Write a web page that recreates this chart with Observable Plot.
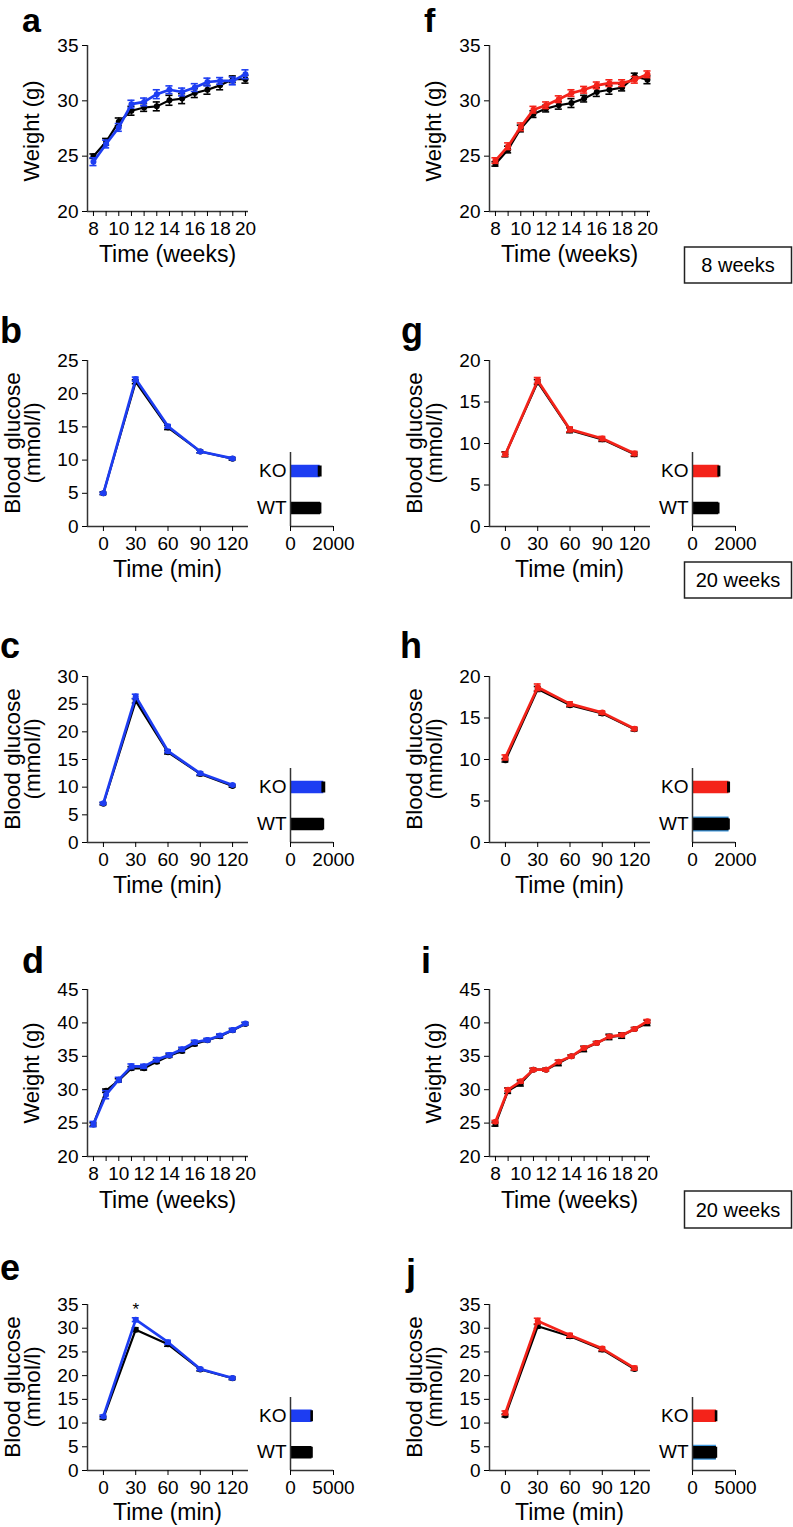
<!DOCTYPE html>
<html><head><meta charset="utf-8">
<script src="https://cdn.jsdelivr.net/npm/d3@7"></script>
<script src="https://cdn.jsdelivr.net/npm/@observablehq/plot@0.6"></script>
<style>
html,body{margin:0;padding:0;background:#fff;}
#page{position:relative;width:793px;height:1527px;overflow:hidden;font-family:"Liberation Sans",Arial,Helvetica,sans-serif;background:#fff;}
</style></head><body><div id="page"></div>
<script>
// ---------- data ----------
const weeks = [8,9,10,11,12,13,14,15,16,17,18,19,20];
const minutes = [0,30,60,90,120];
const aucGroups = ["WT","KO"];

// a: weight, 8 weeks cohort (blue KO)
const aWT   = [25.0,26.3,28.1,29.1,29.4,29.5,30.05,30.2,30.7,31.0,31.4,31.95,31.95];
const aWTse = [0.2,0.3,0.35,0.4,0.35,0.4,0.45,0.45,0.4,0.4,0.4,0.3,0.35];
const aKO   = [24.5,26.1,27.6,29.7,29.9,30.6,31.0,30.8,31.2,31.7,31.8,31.8,32.4];
const aKOse = [0.35,0.35,0.35,0.35,0.35,0.4,0.35,0.35,0.35,0.35,0.3,0.35,0.4];
// f: weight (red KO)
const fWT   = [24.3,25.6,27.5,28.8,29.3,29.6,29.8,30.2,30.8,31.0,31.2,32.2,31.9];
const fWTse = [0.2,0.3,0.3,0.3,0.3,0.35,0.4,0.3,0.4,0.4,0.3,0.3,0.35];
const fKO   = [24.6,25.9,27.65,29.2,29.6,30.15,30.7,31.0,31.4,31.6,31.6,31.9,32.4];
const fKOse = [0.25,0.3,0.35,0.3,0.3,0.3,0.3,0.3,0.3,0.3,0.3,0.3,0.3];
// d: weight
const dWT   = [24.8,29.85,31.4,33.2,33.2,34.2,35.1,35.8,36.85,37.4,38.0,38.9,39.85];
const dWTse = [0.25,0.25,0.25,0.25,0.25,0.25,0.25,0.25,0.25,0.2,0.25,0.2,0.2];
const dKO   = [24.85,29.25,31.5,33.5,33.5,34.5,35.2,36.05,37.1,37.45,38.1,38.95,39.9];
const dKOse = [0.4,0.6,0.35,0.35,0.3,0.3,0.3,0.3,0.3,0.25,0.25,0.25,0.2];
// i: weight
const iWT   = [24.85,29.85,30.95,33.0,33.0,34.0,35.0,36.1,37.0,37.9,38.1,39.1,40.0];
const iWTse = [0.3,0.4,0.4,0.2,0.2,0.4,0.2,0.4,0.2,0.4,0.4,0.2,0.4];
const iKO   = [25.2,30.0,31.25,33.0,33.0,34.2,35.0,36.25,37.0,37.95,38.2,39.1,40.25];
const iKOse = [0.2,0.2,0.25,0.2,0.2,0.2,0.2,0.2,0.2,0.2,0.2,0.2,0.25];

// glucose tolerance curves
const bWT = [5.0,21.8,14.9,11.3,10.2],   bWTse = [0.2,0.3,0.3,0.2,0.2];
const bKO = [5.0,22.2,15.1,11.3,10.25],  bKOse = [0.15,0.3,0.25,0.2,0.15];
const gWT = [8.7,17.4,11.6,10.5,8.7],    gWTse = [0.3,0.3,0.3,0.25,0.25];
const gKO = [8.7,17.6,11.7,10.6,8.8],    gKOse = [0.25,0.35,0.3,0.25,0.25];
const cWT = [7.0,25.6,16.3,12.4,10.2],   cWTse = [0.2,0.4,0.3,0.3,0.2];
const cKO = [7.1,26.4,16.5,12.5,10.4],   cKOse = [0.2,0.4,0.25,0.25,0.2];
const hWT = [9.9,18.5,16.55,15.55,13.65],hWTse = [0.2,0.3,0.2,0.2,0.2];
const hKO = [10.25,18.7,16.7,15.65,13.7],hKOse = [0.3,0.4,0.25,0.2,0.2];
const eWT = [11.1,29.7,26.6,21.3,19.45], eWTse = [0.3,0.4,0.4,0.3,0.3];
const eKO = [11.4,31.8,27.05,21.4,19.5], eKOse = [0.3,0.4,0.4,0.3,0.3];
const jWT = [11.6,30.4,28.3,25.5,21.4],  jWTse = [0.3,0.4,0.4,0.4,0.3];
const jKO = [12.15,31.5,28.5,25.7,21.6], jKOse = [0.4,0.6,0.4,0.4,0.4];

// AUC bars [WT, KO]
const bAUC = [1400,1380], bAUCse = [60,90];
const gAUC = [1220,1250], gAUCse = [60,70];
const cAUC = [1530,1550], cAUCse = [60,90];
const hAUC = [1700,1700], hAUCse = [60,70];
const eAUC = [2500,2520], eAUCse = [150,150];
const jAUC = [2780,2800], jAUCse = [150,150];
const eSignif = [{minute: 30, label: "*"}];

// ---------- drawing ----------
const page = document.getElementById("page");
const FONT = '"Liberation Sans", Arial, Helvetica, sans-serif';
const BLUE = "#1d3df2", RED = "#f4231a", AXIS = "#333";

function rows(xs, vs, es) { return xs.map((x, i) => ({x, v: vs[i], e: es[i]})); }
function place(svg, left, top) {
  svg.style.position = "absolute"; svg.style.left = left + "px"; svg.style.top = top + "px";
  page.appendChild(svg);
}

function mainPlot({col, fy0, fy1, kind, yDomain, yTicks, wt, ko, koColor, extra = []}) {
  const fx0 = 87 + col * 402, fx1 = 248 + col * 402;
  const ox0 = col * 402, ox1 = fx1 + 14, oy0 = fy0 - 20, oy1 = fy1 + 45;
  const isW = kind === "weeks";
  const xDomain = isW ? [7.53, 20.24] : [-14.8, 134.8];
  const cap = isW ? 0.28 : 3.2;
  const series = (data, color, lw) => [
    Plot.line(data, {x: "x", y: "v", stroke: color, strokeWidth: lw}),
    Plot.ruleX(data, {x: "x", y1: d => d.v - d.e, y2: d => d.v + d.e, stroke: color, strokeWidth: 1.6}),
    Plot.ruleY(data, {y: d => d.v + d.e, x1: d => d.x - cap, x2: d => d.x + cap, stroke: color, strokeWidth: 1.6}),
    Plot.ruleY(data, {y: d => d.v - d.e, x1: d => d.x - cap, x2: d => d.x + cap, stroke: color, strokeWidth: 1.6}),
    Plot.dot(data, {x: "x", y: "v", r: 3, fill: color})
  ];
  const svg = Plot.plot({
    width: ox1 - ox0, height: oy1 - oy0,
    marginLeft: fx0 - ox0, marginRight: ox1 - fx1, marginTop: fy0 - oy0, marginBottom: oy1 - fy1,
    x: {domain: xDomain}, y: {domain: yDomain},
    style: {fontFamily: FONT, fontSize: "19px", color: "#000", background: "transparent", overflow: "visible"},
    marks: [
      Plot.ruleX([xDomain[0]], {stroke: AXIS, strokeWidth: 1.5}),
      Plot.ruleY([yDomain[0]], {stroke: AXIS, strokeWidth: 1.5}),
      Plot.axisY({ticks: yTicks, tickSize: 5, tickPadding: 4, label: null, fontSize: 19, tickFormat: d => String(d)}),
      Plot.axisX({ticks: isW ? weeks : minutes, tickSize: 5, tickPadding: 5, label: null, fontSize: 19,
        tickFormat: isW ? (d => d % 2 === 0 ? String(d) : "") : (d => String(d))}),
      ...series(wt, "#000", 2.2),
      ...series(ko, koColor, 2.7),
      ...extra
    ]
  });
  place(svg, ox0, oy0);
}

function aucPlot({col, fy0, fy1, max, vals, ses, koColor, wtEdge = null}) {
  const fx0 = 290 + col * 402, fx1 = 333 + col * 402;
  const ox0 = fx0 - 50, ox1 = fx1 + 35, oy0 = fy0 - 10, oy1 = fy1 + 40;
  const data = aucGroups.map((g, i) => ({pos: i, v: vals[i], e: ses[i]}));
  const marks = [];
  if (wtEdge) marks.push(Plot.ruleY(data.filter(d => d.pos === 0), {y: "pos", x1: 0, x2: d => d.v, stroke: wtEdge, strokeWidth: 15}));
  marks.push(
    Plot.ruleY(data, {y: "pos", x1: 0, x2: "v", stroke: d => d.pos === 0 ? "#000" : koColor, strokeWidth: 12.5}),
    Plot.ruleY(data, {y: "pos", x1: d => d.v - d.e, x2: d => d.v + d.e, stroke: "#000", strokeWidth: 11}),
    Plot.ruleX([0], {stroke: AXIS, strokeWidth: 1.5}),
    Plot.ruleY([-0.5], {stroke: AXIS, strokeWidth: 1.5}),
    Plot.axisX({ticks: [0, max], tickSize: 5, tickPadding: 5, label: null, fontSize: 19, tickFormat: d => String(d)}),
    Plot.axisY({ticks: [0, 1], tickSize: 0, tickPadding: 4, label: null, fontSize: 19, tickFormat: i => aucGroups[i]})
  );
  const svg = Plot.plot({
    width: ox1 - ox0, height: oy1 - oy0,
    marginLeft: fx0 - ox0, marginRight: ox1 - fx1, marginTop: fy0 - oy0, marginBottom: oy1 - fy1,
    x: {domain: [0, max]}, y: {domain: [-0.5, 1.5]}, color: {type: "identity"},
    style: {fontFamily: FONT, fontSize: "19px", color: "#000", background: "transparent", overflow: "visible"},
    marks
  });
  place(svg, ox0, oy0);
}

// row geometry (plot-frame top / bottom in page px)
const R1 = [45, 211], R2 = [360, 526], R3 = [676, 842], R4 = [989, 1156], R5 = [1304, 1470];
const A2 = [452, 526], A3 = [768, 842], A5 = [1397, 1470];

mainPlot({col: 0, fy0: R1[0], fy1: R1[1], kind: "weeks", yDomain: [20, 35], yTicks: [20,25,30,35], wt: rows(weeks, aWT, aWTse), ko: rows(weeks, aKO, aKOse), koColor: BLUE});
mainPlot({col: 1, fy0: R1[0], fy1: R1[1], kind: "weeks", yDomain: [20, 35], yTicks: [20,25,30,35], wt: rows(weeks, fWT, fWTse), ko: rows(weeks, fKO, fKOse), koColor: RED});
mainPlot({col: 0, fy0: R2[0], fy1: R2[1], kind: "min", yDomain: [0, 25], yTicks: [0,5,10,15,20,25], wt: rows(minutes, bWT, bWTse), ko: rows(minutes, bKO, bKOse), koColor: BLUE});
mainPlot({col: 1, fy0: R2[0], fy1: R2[1], kind: "min", yDomain: [0, 20], yTicks: [0,5,10,15,20], wt: rows(minutes, gWT, gWTse), ko: rows(minutes, gKO, gKOse), koColor: RED});
mainPlot({col: 0, fy0: R3[0], fy1: R3[1], kind: "min", yDomain: [0, 30], yTicks: [0,5,10,15,20,25,30], wt: rows(minutes, cWT, cWTse), ko: rows(minutes, cKO, cKOse), koColor: BLUE});
mainPlot({col: 1, fy0: R3[0], fy1: R3[1], kind: "min", yDomain: [0, 20], yTicks: [0,5,10,15,20], wt: rows(minutes, hWT, hWTse), ko: rows(minutes, hKO, hKOse), koColor: RED});
mainPlot({col: 0, fy0: R4[0], fy1: R4[1], kind: "weeks", yDomain: [20, 45], yTicks: [20,25,30,35,40,45], wt: rows(weeks, dWT, dWTse), ko: rows(weeks, dKO, dKOse), koColor: BLUE});
mainPlot({col: 1, fy0: R4[0], fy1: R4[1], kind: "weeks", yDomain: [20, 45], yTicks: [20,25,30,35,40,45], wt: rows(weeks, iWT, iWTse), ko: rows(weeks, iKO, iKOse), koColor: RED});
mainPlot({col: 0, fy0: R5[0], fy1: R5[1], kind: "min", yDomain: [0, 35], yTicks: [0,5,10,15,20,25,30,35], wt: rows(minutes, eWT, eWTse), ko: rows(minutes, eKO, eKOse), koColor: BLUE,
  extra: [Plot.text(eSignif, {x: "minute", y: d => eKO[minutes.indexOf(d.minute)] + eKOse[minutes.indexOf(d.minute)] + 1.8, text: "label", fontSize: 17, fill: "#000"})]});
mainPlot({col: 1, fy0: R5[0], fy1: R5[1], kind: "min", yDomain: [0, 35], yTicks: [0,5,10,15,20,25,30,35], wt: rows(minutes, jWT, jWTse), ko: rows(minutes, jKO, jKOse), koColor: RED});

aucPlot({col: 0, fy0: A2[0], fy1: A2[1], max: 2000, vals: bAUC, ses: bAUCse, koColor: BLUE});
aucPlot({col: 1, fy0: A2[0], fy1: A2[1], max: 2000, vals: gAUC, ses: gAUCse, koColor: RED});
aucPlot({col: 0, fy0: A3[0], fy1: A3[1], max: 2000, vals: cAUC, ses: cAUCse, koColor: BLUE});
aucPlot({col: 1, fy0: A3[0], fy1: A3[1], max: 2000, vals: hAUC, ses: hAUCse, koColor: RED, wtEdge: "#3d95da"});
aucPlot({col: 0, fy0: A5[0], fy1: A5[1], max: 5000, vals: eAUC, ses: eAUCse, koColor: BLUE});
aucPlot({col: 1, fy0: A5[0], fy1: A5[1], max: 5000, vals: jAUC, ses: jAUCse, koColor: RED, wtEdge: "#3d95da"});

// ---------- annotation overlay (titles, panel letters, boxes) ----------
const ov = d3.select(page).append("svg").attr("width", 793).attr("height", 1527)
  .style("position", "absolute").style("left", "0px").style("top", "0px")
  .style("pointer-events", "none").style("font-family", FONT);

const letters = [
  {t: "a", x: 22, y: 32, s: 34}, {t: "f", x: 424, y: 32, s: 34},
  {t: "b", x: 0, y: 343, s: 36}, {t: "g", x: 401, y: 343, s: 36},
  {t: "c", x: 0, y: 658, s: 36}, {t: "h", x: 400, y: 658, s: 36},
  {t: "d", x: 22, y: 973, s: 36}, {t: "i", x: 421, y: 973, s: 36},
  {t: "e", x: 0, y: 1280, s: 36}, {t: "j", x: 406, y: 1285, s: 36}
];
ov.selectAll("text.letter").data(letters).join("text").attr("class", "letter")
  .attr("x", d => d.x).attr("y", d => d.y).attr("font-size", d => d.s).attr("font-weight", "bold").text(d => d.t);

const weightTitles = [{x: 39, cy: 131}, {x: 441, cy: 131}, {x: 39, cy: 1073}, {x: 441, cy: 1073}];
ov.selectAll("text.wt").data(weightTitles).join("text").attr("class", "wt")
  .attr("transform", d => `translate(${d.x},${d.cy}) rotate(-90)`).attr("text-anchor", "middle")
  .attr("font-size", 22).text("Weight (g)");

const glucoseTitles = [{x: 20, cy: 443}, {x: 422, cy: 443}, {x: 20, cy: 759}, {x: 422, cy: 759}, {x: 20, cy: 1387}, {x: 422, cy: 1387}];
glucoseTitles.forEach(d => {
  ov.append("text").attr("transform", `translate(${d.x},${d.cy}) rotate(-90)`).attr("text-anchor", "middle").attr("font-size", 22.5).text("Blood glucose");
  ov.append("text").attr("transform", `translate(${d.x + 20},${d.cy}) rotate(-90)`).attr("text-anchor", "middle").attr("font-size", 22.5).text("(mmol/l)");
});

const xTitles = [
  {x: 167.5, y: 262, t: "Time (weeks)"}, {x: 569.5, y: 262, t: "Time (weeks)"},
  {x: 167.5, y: 577, t: "Time (min)"}, {x: 569.5, y: 577, t: "Time (min)"},
  {x: 167.5, y: 893, t: "Time (min)"}, {x: 569.5, y: 893, t: "Time (min)"},
  {x: 167.5, y: 1208, t: "Time (weeks)"}, {x: 569.5, y: 1208, t: "Time (weeks)"},
  {x: 167.5, y: 1520, t: "Time (min)"}, {x: 569.5, y: 1520, t: "Time (min)"}
];
ov.selectAll("text.xt").data(xTitles).join("text").attr("class", "xt")
  .attr("x", d => d.x).attr("y", d => d.y).attr("text-anchor", "middle").attr("font-size", 23).text(d => d.t);

const boxes = [{t: "8 weeks", y0: 247, y1: 283}, {t: "20 weeks", y0: 562, y1: 598}, {t: "20 weeks", y0: 1191, y1: 1228}];
boxes.forEach(b => {
  ov.append("rect").attr("x", 684.5).attr("y", b.y0).attr("width", 107).attr("height", b.y1 - b.y0)
    .attr("fill", "none").attr("stroke", "#222").attr("stroke-width", 1.5);
  ov.append("text").attr("x", 738).attr("y", (b.y0 + b.y1) / 2 + 7).attr("text-anchor", "middle").attr("font-size", 20).text(b.t);
});
</script></body></html>
